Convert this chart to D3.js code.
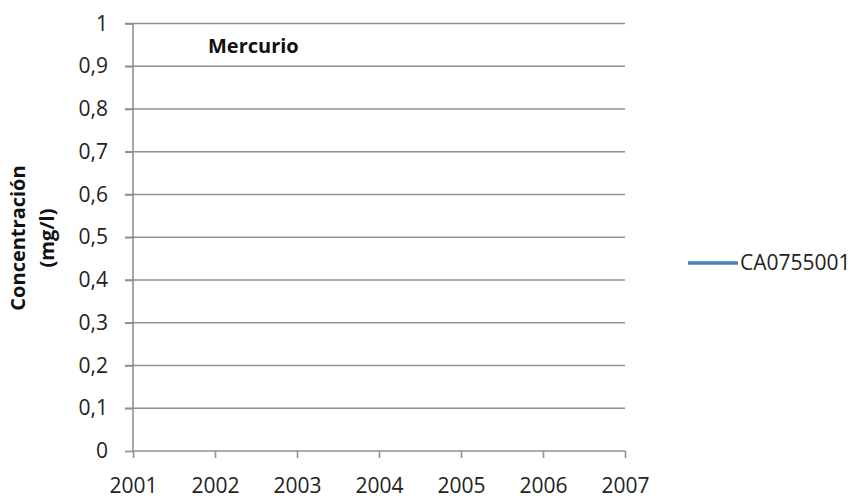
<!DOCTYPE html>
<html><head><meta charset="utf-8">
<script src="https://cdn.jsdelivr.net/npm/d3@7"></script>
<style>body{margin:0;background:#fff;}svg{display:block;font-family:"Open Sans",sans-serif;}</style>
</head><body><div id="chart"></div>
<script>
const years = [2001, 2002, 2003, 2004, 2005, 2006, 2007];
const yTicks = [0, 0.1, 0.2, 0.3, 0.4, 0.5, 0.6, 0.7, 0.8, 0.9, 1];
const seriesName = "CA0755001";
const seriesValues = []; // no measured values shown in the chart
const title = "Mercurio";

const W = 858, H = 501;
const svg = d3.select("#chart").append("svg").attr("width", W).attr("height", H);
const x = d3.scaleLinear().domain([2001, 2007]).range([133, 625]);
const y = d3.scaleLinear().domain([0, 1]).range([451, 23.5]);
const grid = "#909090";
const fmt = d => d === 0 ? "0" : d === 1 ? "1" : String(d).replace(".", ",");

// gridlines
svg.append("g").selectAll("line").data(yTicks.filter(d => d > 0)).join("line")
  .attr("x1", 125).attr("x2", 625).attr("y1", d => y(d)).attr("y2", d => y(d))
  .attr("stroke", grid).attr("stroke-width", 1.6);

// y axis
const ya = svg.append("g").attr("transform", `translate(${x(2001)},0)`)
  .call(d3.axisLeft(y).tickValues(yTicks).tickFormat(fmt).tickSize(8).tickPadding(17));
// x axis
const xa = svg.append("g").attr("transform", `translate(0,${y(0)})`)
  .call(d3.axisBottom(x).tickValues(years).tickFormat(d3.format("d")).tickSize(7).tickPadding(20));
[ya, xa].forEach(g => {
  g.select(".domain").attr("stroke", grid).attr("stroke-width", 1.6);
  g.selectAll(".tick line").attr("stroke", grid).attr("stroke-width", 1.6);
  g.selectAll("text").attr("font-size", 21).attr("fill", "#222").attr("font-family", "Open Sans, sans-serif");
});
xa.select(".domain").attr("d", `M${x(2001)},0H${x(2007)}`);
ya.select(".domain").attr("d", `M0,${y(1)}V${y(0)}`);
// series line (empty)
svg.append("path").datum(seriesValues).attr("fill", "none").attr("stroke", "#4a7ebb").attr("stroke-width", 3)
  .attr("d", d3.line().x(d => x(d.year)).y(d => y(d.value)));

// title
svg.append("text").attr("x", 208).attr("y", 53).attr("font-size", 20).attr("font-weight", "bold")
  .attr("fill", "#111").text(title);

// y label
const yl = svg.append("text").attr("transform", "translate(0,238) rotate(-90)")
  .attr("text-anchor", "middle").attr("font-size", 20).attr("font-weight", "bold").attr("fill", "#111");
yl.append("tspan").attr("x", 0).attr("y", 25).text("Concentración");
yl.append("tspan").attr("x", 0).attr("y", 54).text("(mg/l)");

// legend
svg.append("line").attr("x1", 688).attr("x2", 738).attr("y1", 263).attr("y2", 263)
  .attr("stroke", "#4a7ebb").attr("stroke-width", 3.5);
svg.append("text").attr("x", 740).attr("y", 270).attr("font-size", 21).attr("fill", "#222").text(seriesName);
</script></body></html>
